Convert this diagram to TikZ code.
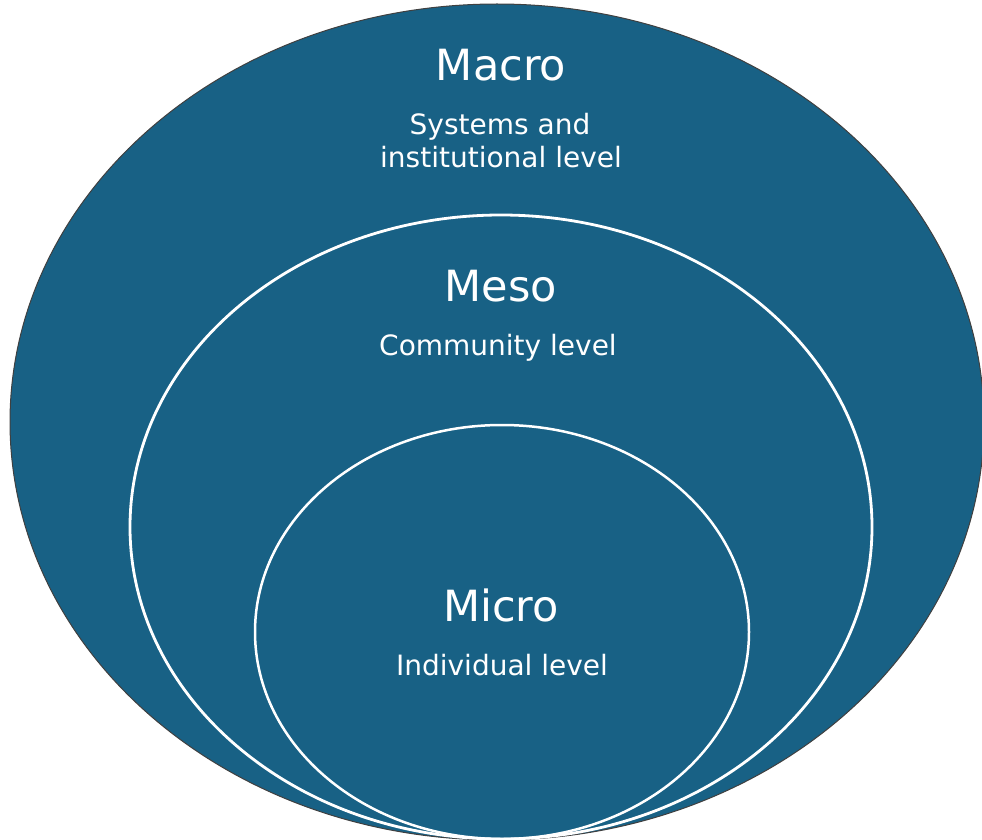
\documentclass[tikz,border=0pt]{standalone}
\usepackage{fontspec}
\setmainfont{DejaVu Sans}
\usetikzlibrary{shapes.geometric}
\definecolor{levelblue}{HTML}{186185}
\tikzset{
  level/.style={ellipse, inner sep=0pt, outer sep=0pt},
  title/.style={text=white, font=\fontsize{43}{48}\selectfont, anchor=base, inner sep=0pt},
  subtitle/.style={text=white, font=\fontsize{28}{32}\selectfont, anchor=base, inner sep=0pt, align=center}
}
\begin{document}
\begin{tikzpicture}[x=1pt,y=-1pt]
\useasboundingbox (0,0) rectangle (982,840);
\begin{scope}
\clip (0,0) rectangle (982,840);
\node[level, fill=levelblue, draw=black!75, line width=1pt, minimum width=974pt, minimum height=836pt] (macro) at (497,422) {};
\node[level, draw=white, line width=2.8pt, minimum width=742pt, minimum height=624pt] (meso) at (501,527) {};
\node[level, draw=white, line width=2.5pt, minimum width=494pt, minimum height=414pt] (micro) at (502,632) {};
\end{scope}
\node[title] (macrot) at (501,81) {Macro};
\node[subtitle] (macros1) at (500,135) {Systems and};
\node[subtitle] (macros2) at (501,167) {institutional level};
\node[title] (mesot) at (501,301) {Meso};
\node[subtitle] (mesos) at (498,355) {Community level};
\node[title] (microt) at (501,621) {Micro};
\node[subtitle] (micros) at (502,675) {Individual level};
\end{tikzpicture}
\end{document}
